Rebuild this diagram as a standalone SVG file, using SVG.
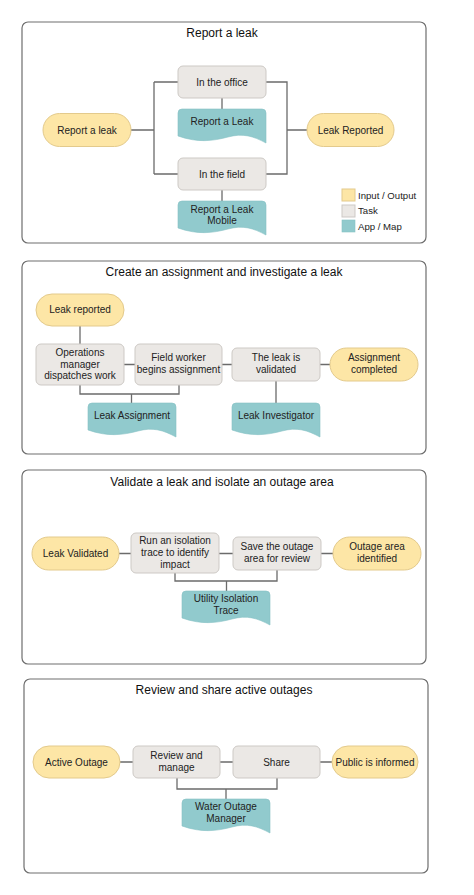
<svg xmlns="http://www.w3.org/2000/svg" xmlns:xlink="http://www.w3.org/1999/xlink" width="474" height="895" viewBox="0 0 474 895">
<style>
text{font-family:"Liberation Sans",Arial,sans-serif;fill:#222;}
.t{font-size:10px;text-anchor:middle;}
.h{font-size:12px;text-anchor:middle;fill:#111;}
.lg{font-size:9.6px;}
.panel{fill:#fff;stroke:#6e6e6e;stroke-width:1.2;}
.io{fill:#fde6a6;stroke:#e3ca8c;stroke-width:1;}
.task{fill:#ebe8e5;stroke:#cdc9c5;stroke-width:1;}
.app{fill:#91cacd;stroke:#86c1c4;stroke-width:0.6;}
.c{fill:none;stroke:#6b6b6b;stroke-width:1.3;}
</style>
<defs>
<path id="doc" d="M0,4 Q0,0 4,0 H84 Q88,0 88,4 V34 C75,27 65,24 50,28 C35,32 20,34 0,27 Z"/>
</defs>
<rect width="474" height="895" fill="#fff"/>

<!-- Panel 1 -->
<g id="panel1">
<rect class="panel" x="22" y="22" width="404" height="221" rx="6"/>
<text class="h" x="222" y="37">Report a leak</text>
</g>
<g id="connectors1">
<path class="c" d="M131,130 H154 M154,82 V174 M154,82 H178 M154,174 H178 M222,98 V109 M222,190 V201 M266,82 H287 V174 H266 M287,130 H307"/>
</g>
<g id="p1-report"><rect class="io" x="43" y="113.5" width="88" height="33" rx="16.5"/><text class="t" x="87" y="133.5">Report a leak</text></g>
<g id="p1-office"><rect class="task" x="178" y="66" width="88" height="32" rx="5"/><text class="t" x="222" y="85.5">In the office</text></g>
<g id="p1-app1"><use href="#doc" xlink:href="#doc" class="app" x="178" y="109"/><text class="t" x="222" y="125">Report a Leak</text></g>
<g id="p1-field"><rect class="task" x="178" y="158" width="88" height="32" rx="5"/><text class="t" x="222" y="177.5">In the field</text></g>
<g id="p1-app2"><use href="#doc" xlink:href="#doc" class="app" x="178" y="201"/><text class="t" x="222" y="212.5">Report a Leak</text><text class="t" x="222" y="224">Mobile</text></g>
<g id="p1-reported"><rect class="io" x="307" y="113.5" width="87" height="33" rx="16.5"/><text class="t" x="350.5" y="133.5">Leak Reported</text></g>
<g id="legend">
<rect class="io" x="342" y="189" width="13" height="12"/><text class="lg" x="358" y="198.5">Input / Output</text>
<rect class="task" x="342" y="205" width="13" height="12"/><text class="lg" x="358" y="214">Task</text>
<rect class="app" x="342" y="220" width="13" height="12"/><text class="lg" x="358" y="229.5">App / Map</text>
</g>

<!-- Panel 2 -->
<g id="panel2">
<rect class="panel" x="22" y="261" width="404" height="193" rx="6"/>
<text class="h" x="224" y="276">Create an assignment and investigate a leak</text>
</g>
<g id="connectors2">
<path class="c" d="M80,326 V344 M124,364.5 H135 M222,364.5 H232 M320,364.5 H330 M80,385 V394 H179 V385 M131.5,394 V403 M276,381 V403"/>
</g>
<g id="p2-reported"><rect class="io" x="36" y="294" width="88" height="32" rx="16"/><text class="t" x="80" y="313">Leak reported</text></g>
<g id="p2-ops"><rect class="task" x="36" y="344" width="88" height="41" rx="5"/><text class="t" x="80" y="355.8">Operations</text><text class="t" x="80" y="367.5">manager</text><text class="t" x="80" y="379">dispatches work</text></g>
<g id="p2-field"><rect class="task" x="135" y="344" width="87" height="41" rx="5"/><text class="t" x="178.5" y="361">Field worker</text><text class="t" x="178.5" y="372.8">begins assignment</text></g>
<g id="p2-validated"><rect class="task" x="232" y="348" width="88" height="33" rx="5"/><text class="t" x="276" y="361">The leak is</text><text class="t" x="276" y="372.8">validated</text></g>
<g id="p2-completed"><rect class="io" x="330" y="348" width="88" height="33" rx="16.5"/><text class="t" x="374" y="361">Assignment</text><text class="t" x="374" y="372.8">completed</text></g>
<g id="p2-assign"><use href="#doc" xlink:href="#doc" class="app" x="88" y="403"/><text class="t" x="132" y="419">Leak Assignment</text></g>
<g id="p2-investigator"><use href="#doc" xlink:href="#doc" class="app" x="232" y="403"/><text class="t" x="276" y="419">Leak Investigator</text></g>

<!-- Panel 3 -->
<g id="panel3">
<rect class="panel" x="22" y="470" width="404" height="194" rx="6"/>
<text class="h" x="222" y="486">Validate a leak and isolate an outage area</text>
</g>
<g id="connectors3">
<path class="c" d="M119,553.5 H131 M219,553.5 H233 M321,553.5 H333 M175,573 V581 H277 V570 M226.5,581 V591"/>
</g>
<g id="p3-validated"><rect class="io" x="32" y="537" width="87" height="33" rx="16.5"/><text class="t" x="75.5" y="557">Leak Validated</text></g>
<g id="p3-trace"><rect class="task" x="131" y="533" width="88" height="40" rx="5"/><text class="t" x="175" y="543.5">Run an isolation</text><text class="t" x="175" y="555.8">trace to identify</text><text class="t" x="175" y="567.5">impact</text></g>
<g id="p3-save"><rect class="task" x="233" y="537" width="88" height="33" rx="5"/><text class="t" x="277" y="550">Save the outage</text><text class="t" x="277" y="561.8">area for review</text></g>
<g id="p3-identified"><rect class="io" x="333" y="537" width="88" height="33" rx="16.5"/><text class="t" x="377" y="550">Outage area</text><text class="t" x="377" y="561.8">identified</text></g>
<g id="p3-app"><use href="#doc" xlink:href="#doc" class="app" x="182" y="591"/><text class="t" x="226" y="601.8">Utility Isolation</text><text class="t" x="226" y="613.5">Trace</text></g>

<!-- Panel 4 -->
<g id="panel4">
<rect class="panel" x="24" y="679" width="404" height="194" rx="6"/>
<text class="h" x="224" y="694">Review and share active outages</text>
</g>
<g id="connectors4">
<path class="c" d="M120,762 H133 M220,762 H233 M320,762 H332 M177,778 V789 H277 V778 M226,789 V799"/>
</g>
<g id="p4-active"><rect class="io" x="33" y="746" width="87" height="32" rx="16"/><text class="t" x="76.5" y="765.5">Active Outage</text></g>
<g id="p4-review"><rect class="task" x="133" y="746" width="87" height="32" rx="5"/><text class="t" x="176.5" y="758.8">Review and</text><text class="t" x="176.5" y="770.8">manage</text></g>
<g id="p4-share"><rect class="task" x="233" y="746" width="87" height="32" rx="5"/><text class="t" x="276.5" y="765.5">Share</text></g>
<g id="p4-public"><rect class="io" x="332" y="746" width="86" height="32" rx="16"/><text class="t" x="375" y="765.5">Public is informed</text></g>
<g id="p4-app"><use href="#doc" xlink:href="#doc" class="app" x="182" y="799"/><text class="t" x="226" y="810">Water Outage</text><text class="t" x="226" y="822">Manager</text></g>
</svg>
